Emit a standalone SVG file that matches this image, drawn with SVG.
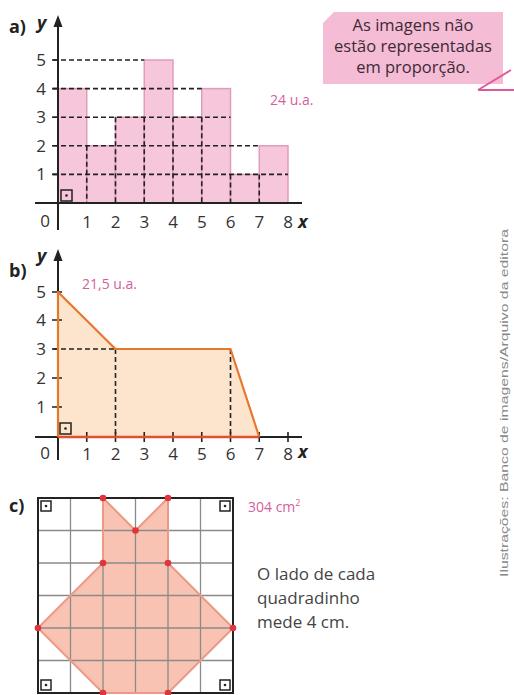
<svg xmlns="http://www.w3.org/2000/svg" width="514" height="695" viewBox="0 0 514 695">
<defs>
<style>
.lbl{font-family:"Open Sans","Liberation Sans",sans-serif;font-size:17px;fill:#333;text-anchor:middle}
.part{font-family:"Open Sans","Liberation Sans",sans-serif;font-size:18px;font-weight:bold;fill:#222}
.var{font-family:"Open Sans","Liberation Sans",sans-serif;font-size:18px;font-weight:bold;font-style:italic;fill:#222}
.ans{font-family:"Open Sans","Liberation Sans",sans-serif;font-size:14px;fill:#d4609c}
.axis{stroke:#222;stroke-width:2;fill:none}
.dash{stroke:#222;stroke-width:1.6;stroke-dasharray:5 3;fill:none}
.bar{fill:#f6c6da;stroke:#e39bbb;stroke-width:1.5}
.grid{stroke:#8a8a8a;stroke-width:1.3}
.note{font-family:"Open Sans","Liberation Sans",sans-serif;font-size:17px;fill:#444}
.call{font-family:"Open Sans","Liberation Sans",sans-serif;font-size:16.5px;fill:#3e2a36;text-anchor:middle}
</style>
</defs>
<rect width="514" height="695" fill="#ffffff"/>

<g id="callout">
<path d="M334,12 H503 V84 H323 V23 Z" fill="#f4bcd5"/>
<path d="M478,90 L511,70 M478,90 H514" stroke="#e0579a" stroke-width="1.8" fill="none"/>
<text class="call" x="413" y="31">As imagens não</text>
<text class="call" x="413" y="52">estão representadas</text>
<text class="call" x="413" y="73">em proporção.</text>
</g>

<g id="credit">
<text transform="translate(508,403) rotate(-90)" font-family="Liberation Sans, sans-serif" font-size="10" fill="#888" text-anchor="middle" textLength="348" lengthAdjust="spacingAndGlyphs">Ilustrações: Banco de imagens/Arquivo da editora</text>
</g>

<g id="part-a">
<text class="part" x="9" y="33">a)</text>
<text class="var" x="37" y="29">y</text>
<g id="bars-a">
<rect class="bar" x="58" y="88.6" width="28.75" height="114.4"/>
<rect class="bar" x="86.75" y="145.8" width="28.75" height="57.2"/>
<rect class="bar" x="115.5" y="117.2" width="28.75" height="85.8"/>
<rect class="bar" x="144.25" y="60" width="28.75" height="143"/>
<rect class="bar" x="173" y="117.2" width="28.75" height="85.8"/>
<rect class="bar" x="201.75" y="88.6" width="28.75" height="114.4"/>
<rect class="bar" x="230.5" y="174.4" width="28.75" height="28.6"/>
<rect class="bar" x="259.25" y="145.8" width="28.75" height="57.2"/>
</g>
<g id="dashes-a">
<path class="dash" d="M53,60 H144.25 M53,88.6 H201.75 M53,117.2 H230.5 M53,145.8 H259.25 M53,174.4 H288"/>
<path class="dash" d="M86.75,145.8 V203 M115.5,117.2 V203 M144.25,117.2 V203 M173,117.2 V203 M201.75,117.2 V203 M230.5,174.4 V203 M259.25,174.4 V203"/>
</g>
<g id="axes-a">
<path class="axis" d="M35,203 H302 M58,230 V24"/>
<path d="M58,15 L53.5,27 H62.5 Z" fill="#222"/>
<path d="M52,60 H58 M52,88.6 H58 M52,117.2 H58 M52,145.8 H58 M52,174.4 H58" stroke="#222" stroke-width="1.6"/>
<rect x="61" y="190" width="11" height="11" fill="none" stroke="#222" stroke-width="1.5"/>
<circle cx="66.5" cy="195.5" r="1.3" fill="#222"/>
</g>
<g id="labels-a">
<text class="lbl" x="41" y="66">5</text>
<text class="lbl" x="41" y="94.6">4</text>
<text class="lbl" x="41" y="123.2">3</text>
<text class="lbl" x="41" y="151.8">2</text>
<text class="lbl" x="41" y="180.4">1</text>
<text class="lbl" x="45" y="227">0</text>
<text class="lbl" x="87" y="228">1</text>
<text class="lbl" x="115.5" y="228">2</text>
<text class="lbl" x="144.25" y="228">3</text>
<text class="lbl" x="173" y="228">4</text>
<text class="lbl" x="201.75" y="228">5</text>
<text class="lbl" x="230.5" y="228">6</text>
<text class="lbl" x="259.25" y="228">7</text>
<text class="lbl" x="288" y="228">8</text>
<text class="var" x="298" y="228" font-size="16">x</text>
</g>
<text class="ans" x="270" y="105">24 u.a.</text>
</g>

<g id="part-b">
<text class="part" x="9" y="277">b)</text>
<text class="var" x="37" y="262">y</text>
<text class="ans" x="82" y="289">21,5 u.a.</text>
<polygon id="shape-b" points="58,437 58,292 115.5,349 230.5,349 259.25,437" fill="#fde4cc"/>
<g id="dashes-b">
<path class="dash" d="M53,349 H115.5 M115.5,349 V437 M230.5,349 V437"/>
</g>
<g id="axes-b">
<path class="axis" d="M35,437 H302 M58,460 V258"/>
<path d="M58,249 L53.5,261 H62.5 Z" fill="#222"/>
<path d="M52,292 H62 M52,320 H62 M52,349 H58 M52,378 H62 M52,407 H62" stroke="#222" stroke-width="1.6"/>
<path d="M86.75,432 V442 M115.5,432 V442 M144.25,432 V442 M173,432 V442 M201.75,432 V442 M230.5,432 V442 M259.25,432 V442 M288,432 V442" stroke="#222" stroke-width="1.6"/>
</g>
<polyline points="58,437 58,292 115.5,349 230.5,349 259.25,437" fill="none" stroke="#e8772e" stroke-width="2.2" stroke-linejoin="round"/>
<path d="M58,437 H259.25" stroke="#e2502c" stroke-width="2.6"/>
<rect x="60" y="423" width="11" height="11" fill="none" stroke="#222" stroke-width="1.5"/>
<circle cx="65.5" cy="428.5" r="1.3" fill="#222"/>
<g id="labels-b">
<text class="lbl" x="41" y="298">5</text>
<text class="lbl" x="41" y="326">4</text>
<text class="lbl" x="41" y="355">3</text>
<text class="lbl" x="41" y="384">2</text>
<text class="lbl" x="41" y="413">1</text>
<text class="lbl" x="45" y="459">0</text>
<text class="lbl" x="87" y="460">1</text>
<text class="lbl" x="115.5" y="460">2</text>
<text class="lbl" x="144.25" y="460">3</text>
<text class="lbl" x="173" y="460">4</text>
<text class="lbl" x="201.75" y="460">5</text>
<text class="lbl" x="230.5" y="460">6</text>
<text class="lbl" x="259.25" y="460">7</text>
<text class="lbl" x="288" y="460">8</text>
<text class="var" x="298" y="458" font-size="16">x</text>
</g>
</g>

<g id="part-c">
<text class="part" x="9" y="512">c)</text>
<polygon id="shape-c" points="103,498 135.5,530.5 168,498 168,563 233,628 168,693 103,693 38,628 103,563" fill="#f9c3b3"/>
<g id="grid-c">
<path class="grid" d="M70.5,498 V693 M103,498 V693 M135.5,498 V693 M168,498 V693 M200.5,498 V693 M38,530.5 H233 M38,563 H233 M38,595.5 H233 M38,628 H233 M38,660.5 H233"/>
<rect x="38" y="498" width="195" height="195" fill="none" stroke="#222" stroke-width="2"/>
</g>
<polygon points="103,498 135.5,530.5 168,498 168,563 233,628 168,693 103,693 38,628 103,563" fill="none" stroke="#ec9a86" stroke-width="2" stroke-linejoin="round"/>
<g id="corners-c" fill="none" stroke="#222" stroke-width="1.5">
<rect x="41" y="501" width="10" height="10"/>
<rect x="220" y="501" width="10" height="10"/>
<rect x="41" y="680" width="10" height="10"/>
<rect x="220" y="680" width="10" height="10"/>
</g>
<g fill="#222">
<circle cx="46" cy="506" r="1.3"/><circle cx="225" cy="506" r="1.3"/>
<circle cx="46" cy="685" r="1.3"/><circle cx="225" cy="685" r="1.3"/>
</g>
<g id="dots-c" fill="#e0353a">
<circle cx="103" cy="498" r="3.3"/><circle cx="168" cy="498" r="3.3"/>
<circle cx="135.5" cy="530.5" r="3.3"/>
<circle cx="103" cy="563" r="3.3"/><circle cx="168" cy="563" r="3.3"/>
<circle cx="38" cy="628" r="3.3"/><circle cx="233" cy="628" r="3.3"/>
<circle cx="103" cy="693" r="3.3"/><circle cx="168" cy="693" r="3.3"/>
</g>
<text class="ans" x="248" y="512">304 cm<tspan font-size="9" dy="-6">2</tspan></text>
<text class="note" x="257" y="580">O lado de cada</text>
<text class="note" x="257" y="604">quadradinho</text>
<text class="note" x="257" y="628">mede 4 cm.</text>
</g>
</svg>
